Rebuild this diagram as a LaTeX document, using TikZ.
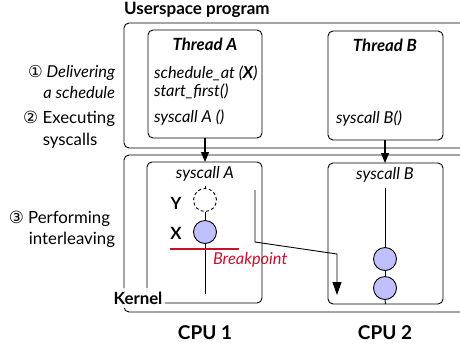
\documentclass[tikz,border=0pt]{standalone}
\usepackage{fontspec}
\setmainfont{Lato}
\newfontfamily\symf{DejaVu Sans}
\usetikzlibrary{arrows.meta}
\definecolor{bpred}{RGB}{200,16,46}
\definecolor{circfill}{RGB}{192,192,255}
\begin{document}
\begin{tikzpicture}[x=1pt,y=-1pt,
  every node/.style={inner sep=0pt, outer sep=0pt},
  txt/.style={font=\fontsize{16.8}{18}\selectfont},
  itxt/.style={font=\fontsize{16.4}{18}\selectfont\itshape},
  btxt/.style={font=\fontsize{16.8}{18}\selectfont\bfseries},
  ttxt/.style={font=\fontsize{17}{18}\selectfont\bfseries},
  bitxt/.style={font=\fontsize{16.8}{18}\selectfont\bfseries\itshape},
  cputxt/.style={font=\fontsize{19}{21}\selectfont\bfseries},
  box/.style={draw, line width=0.9pt, rounded corners=5pt},
  outer/.style={draw, line width=0.9pt, rounded corners=5pt},
  arr/.style={line width=1.2pt, -{Triangle[width=8pt,length=10pt]}},
  flow/.style={line width=0.9pt},
  circ/.style={circle, draw, line width=0.9pt, fill=circfill, minimum size=23pt},
  dcirc/.style={circle, draw, line width=0.9pt, dashed, dash pattern=on 3pt off 2.5pt, minimum size=23pt}
]
\useasboundingbox (0,0) rectangle (460,349);

% outer frames (open at the right)
\draw[outer] (461,23) -- (124,23) -- (124,148) -- (461,148);
\draw[outer] (461,155) -- (124,155) -- (124,312) -- (461,312);

\node[ttxt, anchor=west] (title) at (124,10) {Userspace program};

% thread boxes
\node[box, minimum width=114pt, minimum height=108pt] (ta) at (205,84) {};
\node[box, minimum width=115pt, minimum height=109pt] (tb) at (385.5,85.5) {};
\node[bitxt] (tat) at (205,44) {Thread A};
\node[bitxt] (tbt) at (385,45) {Thread B};
\node[itxt, anchor=west] (sched) at (154,73) {schedule\_at (\textbf{X})};
\node[itxt, anchor=west] (start) at (154,91) {start\_first()};
\node[itxt, anchor=west] (sca) at (154,118) {syscall A ()};
\node[itxt, anchor=west] (scb) at (336,119) {syscall B()};

% cpu boxes
\node[box, minimum width=115pt, minimum height=141pt] (c1) at (204.5,232.5) {};
\node[box, minimum width=115pt, minimum height=141pt] (c2) at (385.5,233.5) {};
\node[itxt] (sa) at (205,174) {syscall A};
\node[itxt] (sb) at (385,175) {syscall B};

\draw[arr] (205,138) -- (205,162);
\draw[arr] (385,140) -- (385,163);

% CPU1 contents
\node[dcirc] (Y) at (205,200) {};
\node[circ] (X) at (205,232) {};
\node[btxt] (yl) at (176,203) {Y};
\node[btxt] (xl) at (176,233) {X};
\coordinate (ytop) at (205,186);
\coordinate (xend) at (205,294);
\draw[flow] (ytop) -- (Y.north);
\draw[flow] (Y.south) -- (X.north);
\draw[flow] (X.south) -- (xend);
\coordinate (bpl) at (170,249);
\coordinate (bpr) at (239,249);
\draw[bpred, line width=1.3pt] (bpl) -- (bpr);
\node[itxt, text=bpred, anchor=west] (bp) at (213,260) {Breakpoint};

% interleaving path
\coordinate (p0) at (255,190);
\coordinate (p1) at (255,242);
\coordinate (p2) at (337,254);
\coordinate (p3) at (337,295);
\draw[flow, -{Triangle[width=9pt,length=13pt]}] (p0) -- (p1) -- (p2) -- (p3);

% CPU2 contents
\node[circ] (b1) at (385,259) {};
\node[circ] (b2) at (385,288) {};
\coordinate (btop) at (385,188);
\draw[flow] (btop) -- (b1.north);
\draw[flow] (b1.south) -- (b2.north);
\draw[flow] (b2.south) -- (c2.south);

% kernel label
\node[btxt, fill=white, fill opacity=0.85, text opacity=1, inner xsep=3pt, inner ysep=4pt] (kern) at (138,298) {Kernel};

% CPU labels
\node[cputxt] (cpu1) at (205,333) {CPU 1};
\node[cputxt] (cpu2) at (385,333) {CPU 2};

% left annotations
\node[itxt, anchor=east] (l1) at (115,73) {{\upshape\symf ①} Delivering};
\node[itxt, anchor=east] (l2) at (115,93) {a schedule};
\node[txt, anchor=east] (l3) at (115,119) {{\symf ②} Executing};
\node[txt] (l4) at (70,141) {syscalls};
\node[txt, anchor=east] (l5) at (110,219) {{\symf ③} Performing};
\node[txt, anchor=east] (l6) at (115,240) {interleaving};
\end{tikzpicture}
\end{document}
